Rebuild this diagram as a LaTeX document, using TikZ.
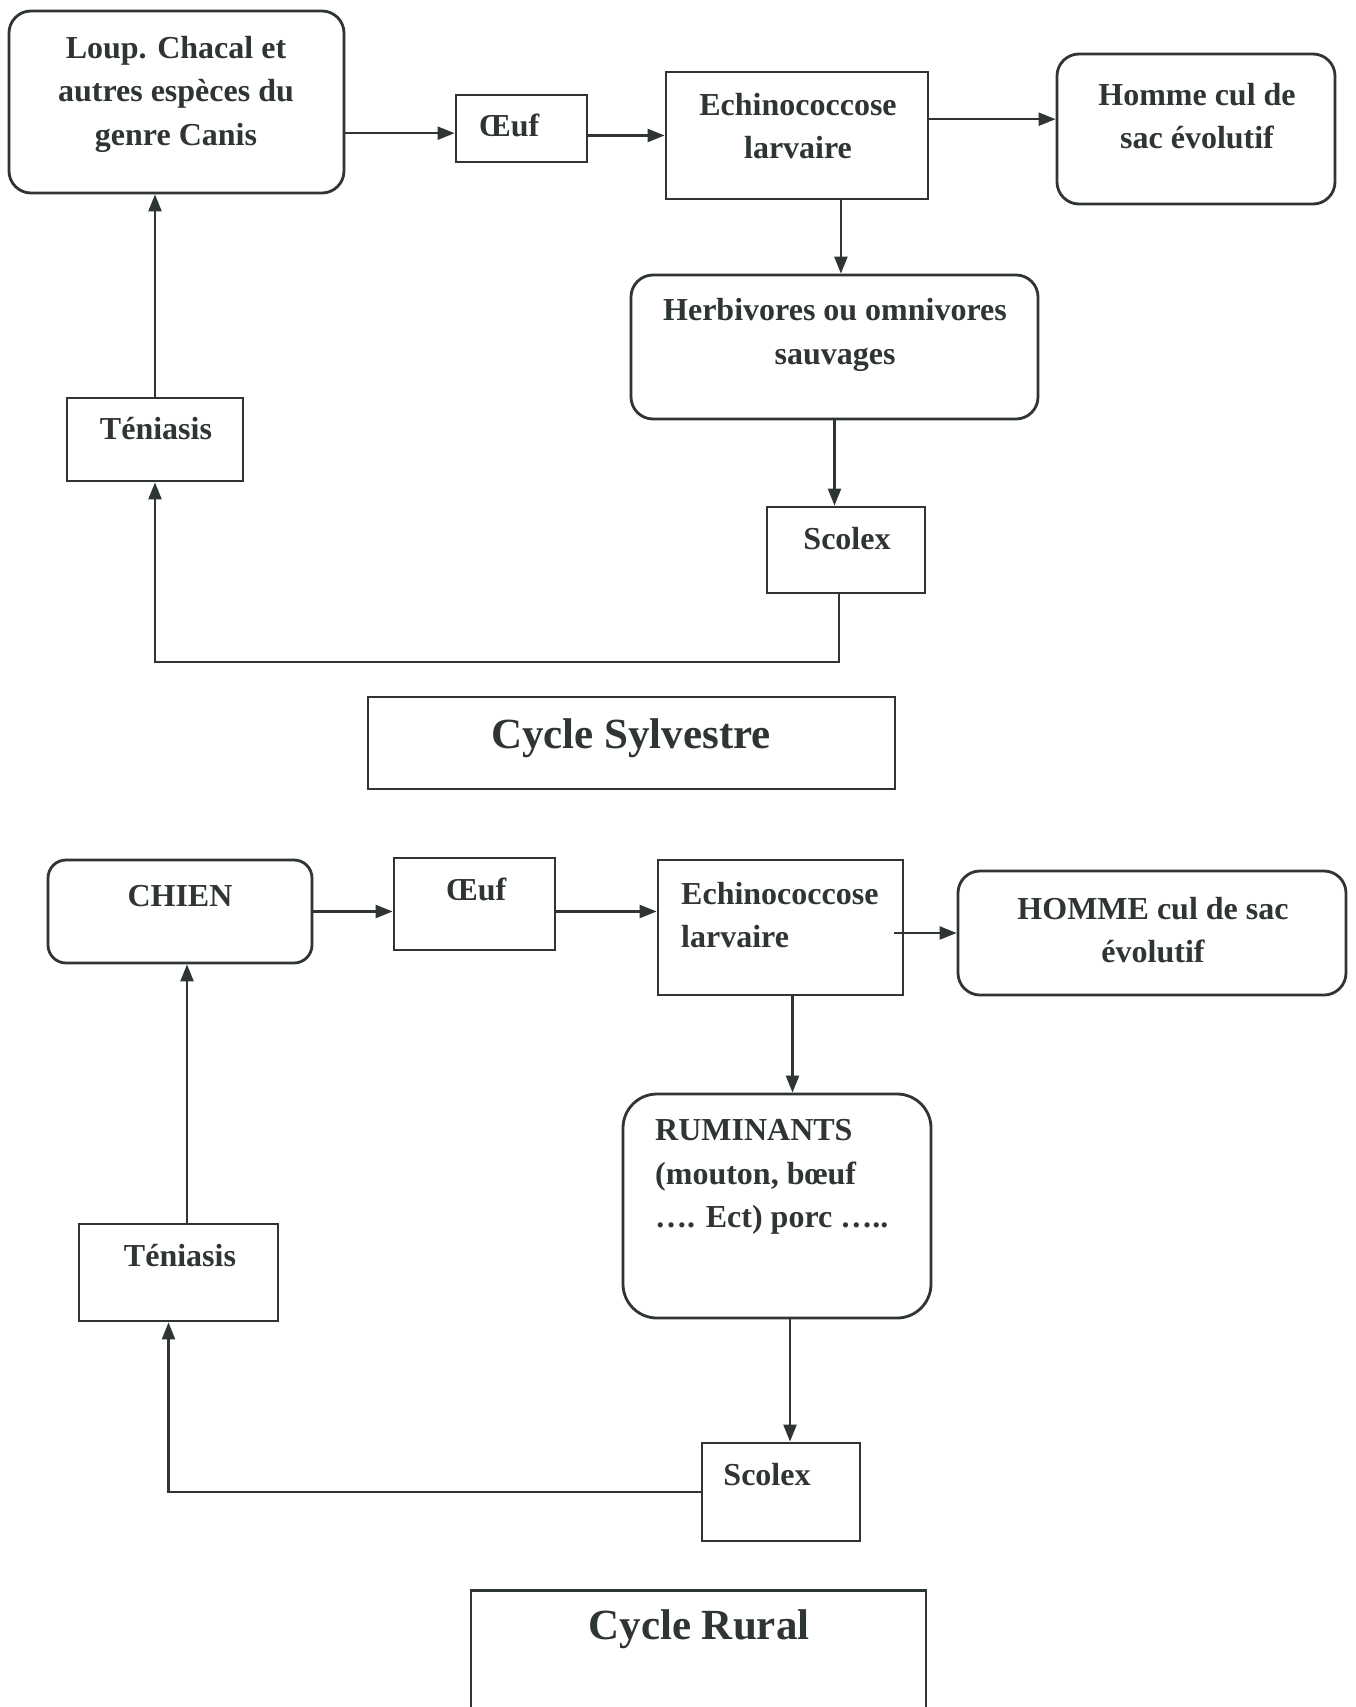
\documentclass[tikz,border=0pt]{standalone}
\usepackage{fontspec}
\setmainfont{Liberation Serif}
\usetikzlibrary{arrows.meta, calc}
\definecolor{ink}{HTML}{2E3532}

\begin{document}
\begin{tikzpicture}[x=1pt, y=-1pt,
  sqbox/.style={rectangle, draw=ink, line width=2.8pt},
  rbox/.style={sqbox, rounded corners=22pt},
  txt/.style={inner sep=0pt, text=ink, align=center, font=\fontsize{32}{43.5}\selectfont\bfseries},
  title/.style={txt, font=\fontsize{43}{52}\selectfont\bfseries},
  arrow/.style={-{Triangle[length=17pt, width=13pt]}, line width=2.3pt, draw=ink}
]
  \fill[white] (0,0) rectangle (1355,1707);
  \useasboundingbox (0,0) rectangle (1355,1707);
  \clip (0,0) rectangle (1355,1707);

  % cycle sylvestre
  \node[rbox, minimum width=335pt, minimum height=182pt] (loup) at (176.5,102) {};
  \node[txt] (loup-t) at (176,94) {Loup. Chacal et\\autres espèces du\\genre Canis};
  \node[sqbox, minimum width=131pt, minimum height=67pt] (oeuf1) at (521.5,128.5) {};
  \node[txt] (oeuf1-t) at (509,125) {Œuf};
  \node[sqbox, minimum width=262pt, minimum height=127pt] (echo1) at (797,135.5) {};
  \node[txt] (echo1-t) at (798,126) {Echinococcose\\larvaire};
  \node[rbox, minimum width=278pt, minimum height=150pt] (homme1) at (1196,129) {};
  \node[txt] (homme1-t) at (1197,116) {Homme cul de\\sac évolutif};
  \node[rbox, minimum width=407pt, minimum height=144pt] (herb) at (834.5,347) {};
  \node[txt] (herb-t) at (835,335) {Herbivores ou omnivores\\sauvages};
  \node[sqbox, minimum width=176pt, minimum height=83pt] (ten1) at (155,439.5) {};
  \node[txt] (ten1-t) at (156,429) {Téniasis};
  \node[sqbox, minimum width=158pt, minimum height=86pt] (scol1) at (846,550) {};
  \node[txt] (scol1-t) at (847,539) {Scolex};
  \node[sqbox, minimum width=527pt, minimum height=92pt] (cyc1) at (631.5,743) {};
  \node[title] (cyc1-t) at (631,738) {Cycle Sylvestre};

  \coordinate (back1) at (0,662);
  \coordinate (drop1) at ($(scol1.south)+(-7,0)$);
  \draw[arrow] (loup.east |- oeuf1.184) -- (oeuf1.184);
  \draw[arrow] (oeuf1.east |- echo1.west) -- (echo1.west);
  \draw[arrow] (echo1.east |- homme1.176) -- (homme1.176);
  \draw[arrow] (echo1.south -| herb.85) -- (herb.85);
  \draw[arrow] (herb.south) -- (herb.south |- scol1.north);
  \draw[arrow] (drop1) -- (drop1 |- back1) -| (ten1.south);
  \draw[arrow] (ten1.north) -- (ten1.north |- loup.south);

  % cycle rural
  \node[rbox, rounded corners=18pt, minimum width=264pt, minimum height=103pt] (chien) at (180,911.5) {};
  \node[txt] (chien-t) at (180,896) {CHIEN};
  \node[sqbox, minimum width=161pt, minimum height=92pt] (oeuf2) at (474.5,904) {};
  \node[txt] (oeuf2-t) at (476,889) {Œuf};
  \node[sqbox, minimum width=245pt, minimum height=135pt] (echo2) at (780.5,927.5) {};
  \node[txt, anchor=west, align=left] (echo2-t) at (681,915) {Echinococcose\\larvaire};
  \node[rbox, minimum width=388pt, minimum height=124pt] (homme2) at (1152,933) {};
  \node[txt] (homme2-t) at (1153,930) {HOMME cul de sac\\évolutif};
  \node[rbox, rounded corners=34pt, minimum width=308pt, minimum height=224pt] (rum) at (777,1206) {};
  \node[txt, anchor=west, align=left] (rum-t) at (655,1177) {RUMINANTS\\(mouton, bœuf\\…. Ect) porc …..};
  \node[sqbox, minimum width=199pt, minimum height=97pt] (ten2) at (178.5,1272.5) {};
  \node[txt] (ten2-t) at (180,1256) {Téniasis};
  \node[sqbox, minimum width=158pt, minimum height=98pt] (scol2) at (781,1492) {};
  \node[txt] (scol2-t) at (767,1475) {Scolex};
  \node[sqbox, minimum width=455pt, minimum height=140pt, anchor=north] (cyc2) at (698.5,1589) {};
  \node[title] (cyc2-t) at (699,1629) {Cycle Rural};

  \coordinate (out2) at ($(echo2.east |- homme2.west)+(-10,0)$);
  \coordinate (down2) at ($(echo2.south)+(12,0)$);
  \coordinate (drop2) at ($(scol2.north)+(9,0)$);
  \coordinate (up2) at ($(ten2.south)+(-10,0)$);
  \coordinate (rise2) at ($(chien.south)+(7,0)$);
  \draw[arrow] (chien.east) -- (chien.east -| oeuf2.west);
  \draw[arrow] (oeuf2.east |- chien.east) -- (echo2.west |- chien.east);
  \draw[arrow] (out2) -- (homme2.west);
  \draw[arrow] (down2) -- (down2 |- rum.north);
  \draw[arrow] (drop2 |- rum.south) -- (drop2);
  \draw[arrow] (scol2.west) -| (up2);
  \draw[arrow] (rise2 |- ten2.north) -- (rise2);
\end{tikzpicture}
\end{document}
